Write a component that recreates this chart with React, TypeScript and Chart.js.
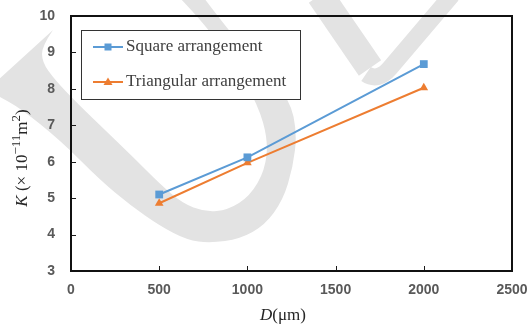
import React, { useEffect, useRef } from "react";
import { Chart, registerables } from "chart.js";

Chart.register(...registerables);

// ---- data ----
const xValues = [500, 1000, 2000];
const squareValues = [5.1, 6.12, 8.68];
const triangularValues = [4.86, 5.97, 8.03];
const seriesLabels = ["Square arrangement", "Triangular arrangement"];
const seriesColors = ["#5B9BD5", "#ED7D31"];
const seriesMarkers = ["rect", "triangle"];
const xRange = [0, 2500];
const xStep = 500;
const yRange = [3, 10];
const yStep = 1;

const SERIF = "'Liberation Serif', 'Times New Roman', serif";
const SANS = "'Liberation Sans', Arial, sans-serif";

function smoothPoly(ctx: any, pts: number[][]) {
  ctx.lineTo(pts[0][0], pts[0][1]);
  for (let i = 1; i < pts.length - 1; i++) {
    const mx = (pts[i][0] + pts[i + 1][0]) / 2;
    const my = (pts[i][1] + pts[i + 1][1]) / 2;
    ctx.quadraticCurveTo(pts[i][0], pts[i][1], mx, my);
  }
  const last = pts[pts.length - 1];
  ctx.lineTo(last[0], last[1]);
}

const watermarkPlugin = {
  id: "watermark",
  beforeDraw(chart: any) {
    const ctx = chart.ctx;
    ctx.save();
    ctx.fillStyle = "#e3e3e3";
    // U-shaped band
    const inner = [
      [53, 30], [42, 46], [42, 62], [55, 80], [77, 103], [105, 130], [133, 157],
      [160, 184], [182, 203], [205, 212], [228, 210], [250, 196], [265, 170],
      [268, 140], [258, 105], [235, 65], [205, 25], [180, -2],
    ];
    const outer = [
      [204, -2], [232, 35], [262, 68], [290, 100], [297, 133], [293, 167],
      [283, 200], [265, 225], [240, 239], [210, 243], [187, 240], [160, 226],
      [130, 205], [100, 180], [60, 140], [20, 108], [-2, 96],
    ];
    ctx.beginPath();
    ctx.moveTo(-2, 80);
    smoothPoly(ctx, inner);
    smoothPoly(ctx, outer);
    ctx.closePath();
    ctx.fill();
    // V-shaped band top right
    ctx.strokeStyle = "#e3e3e3";
    ctx.lineJoin = "round";
    ctx.lineCap = "butt";
    ctx.lineWidth = 27;
    ctx.beginPath();
    ctx.moveTo(320, -5);
    ctx.lineTo(370, 68);
    ctx.stroke();
    ctx.lineWidth = 17;
    ctx.beginPath();
    ctx.moveTo(366, 74);
    ctx.quadraticCurveTo(378, 82, 390, 68);
    ctx.lineTo(452, -5);
    ctx.stroke();
    ctx.restore();
  },
};

function drawMarker(ctx: any, style: string, x: number, y: number, color: string) {
  ctx.fillStyle = color;
  ctx.beginPath();
  if (style === "rect") {
    ctx.rect(x - 3.5, y - 3.5, 7, 7);
  } else {
    ctx.moveTo(x, y - 4.5);
    ctx.lineTo(x + 4.5, y + 3);
    ctx.lineTo(x - 4.5, y + 3);
    ctx.closePath();
  }
  ctx.fill();
}

function drawSegments(ctx: any, segs: any[], cx: number, cy: number) {
  let total = 0;
  for (const s of segs) {
    ctx.font = s.font;
    total += ctx.measureText(s.text).width;
  }
  let x = cx - total / 2;
  ctx.textBaseline = "middle";
  ctx.textAlign = "left";
  for (const s of segs) {
    ctx.font = s.font;
    ctx.fillText(s.text, x, cy + (s.dy || 0));
    x += ctx.measureText(s.text).width;
  }
}

const decorPlugin = {
  id: "decor",
  afterDatasetsDraw(chart: any) {
    const ctx = chart.ctx;
    const a = chart.chartArea;
    const xs = chart.scales.x;
    const ys = chart.scales.y;
    ctx.save();
    // inward ticks
    ctx.strokeStyle = "#1a1a1a";
    ctx.lineWidth = 1;
    ctx.beginPath();
    for (const t of xs.ticks) {
      const px = Math.round(xs.getPixelForValue(t.value)) + 0.5;
      ctx.moveTo(px, a.bottom);
      ctx.lineTo(px, a.bottom - 5);
    }
    for (const t of ys.ticks) {
      const py = Math.round(ys.getPixelForValue(t.value)) + 0.5;
      ctx.moveTo(a.left, py);
      ctx.lineTo(a.left + 5, py);
    }
    ctx.stroke();
    // frame
    ctx.strokeStyle = "#111";
    ctx.lineWidth = 2;
    ctx.strokeRect(a.left, a.top, a.right - a.left, a.bottom - a.top);

    // legend
    const lx = 81, ly = 30, lw = 219, lh = 69;
    ctx.fillStyle = "#fff";
    ctx.fillRect(lx, ly, lw, lh);
    ctx.strokeStyle = "#333";
    ctx.lineWidth = 1;
    ctx.strokeRect(lx + 0.5, ly + 0.5, lw, lh);
    const rows = [47, 82];
    chart.data.datasets.forEach((ds: any, i: number) => {
      const y = rows[i];
      ctx.strokeStyle = ds.borderColor;
      ctx.lineWidth = 2;
      ctx.beginPath();
      ctx.moveTo(93, y);
      ctx.lineTo(123, y);
      ctx.stroke();
      drawMarker(ctx, ds.pointStyle, 108, y, ds.borderColor);
      ctx.fillStyle = "#404040";
      ctx.font = `17px ${SERIF}`;
      ctx.textBaseline = "middle";
      ctx.textAlign = "left";
      ctx.fillText(ds.label, 126, y);
    });

    // axis titles
    ctx.fillStyle = "#262626";
    drawSegments(
      ctx,
      [
        { text: "D", font: `italic 17px ${SERIF}` },
        { text: "(μm)", font: `17px ${SERIF}` },
      ],
      283,
      316
    );
    ctx.save();
    ctx.translate(23, 158);
    ctx.rotate(-Math.PI / 2);
    drawSegments(
      ctx,
      [
        { text: "K", font: `italic 17px ${SERIF}` },
        { text: " (× 10", font: `17px ${SERIF}` },
        { text: "−11", font: `13px ${SERIF}`, dy: -6 },
        { text: "m", font: `17px ${SERIF}` },
        { text: "2", font: `13px ${SERIF}`, dy: -6 },
        { text: ")", font: `17px ${SERIF}` },
      ],
      0,
      0
    );
    ctx.restore();
    ctx.restore();
  },
};

export default function App() {
  const ref = useRef<HTMLCanvasElement | null>(null);
  useEffect(() => {
    if (!ref.current) return;
    const series = [squareValues, triangularValues];
    const chart = new Chart(ref.current, {
      type: "line",
      data: {
        datasets: series.map((vals, i) => ({
          label: seriesLabels[i],
          data: xValues.map((x, j) => ({ x, y: vals[j] })),
          borderColor: seriesColors[i],
          backgroundColor: seriesColors[i],
          borderWidth: 2,
          pointStyle: seriesMarkers[i] as any,
          pointRadius: i === 0 ? 5.5 : 5,
          pointBorderWidth: 0,
          tension: 0,
          fill: false,
        })),
      },
      options: {
        animation: false,
        responsive: false,
        maintainAspectRatio: false,
        layout: { padding: { top: 16, right: 17, left: 0, bottom: 0 } },
        plugins: { legend: { display: false }, tooltip: { enabled: false } },
        scales: {
          x: {
            type: "linear",
            min: xRange[0],
            max: xRange[1],
            grid: { display: false, drawTicks: false },
            border: { display: false },
            ticks: {
              stepSize: xStep,
              padding: 11,
              color: "#595959",
              font: { family: SANS, size: 14, weight: "bold" },
              maxRotation: 0,
              callback: (v: any) => String(v),
            },
            afterFit(scale: any) {
              scale.height = 56;
              scale.paddingLeft = 0;
              scale.paddingRight = 0;
              scale.paddingTop = 0;
              scale.paddingBottom = 0;
            },
          },
          y: {
            type: "linear",
            min: yRange[0],
            max: yRange[1],
            grid: { display: false, drawTicks: false },
            border: { display: false },
            ticks: {
              stepSize: yStep,
              padding: 16,
              color: "#595959",
              font: { family: SANS, size: 14, weight: "bold" },
              callback: (v: any) => String(v),
            },
            afterFit(scale: any) {
              scale.width = 71;
              scale.paddingLeft = 0;
              scale.paddingRight = 0;
              scale.paddingTop = 0;
              scale.paddingBottom = 0;
            },
          },
        },
      },
      plugins: [watermarkPlugin, decorPlugin],
    });
    return () => chart.destroy();
  }, []);
  return (
    <div style={{ position: "absolute", left: 0, top: 0, width: 529, height: 327, background: "#fff" }}>
      <canvas ref={ref} width={529} height={327} style={{ display: "block" }} />
    </div>
  );
}
